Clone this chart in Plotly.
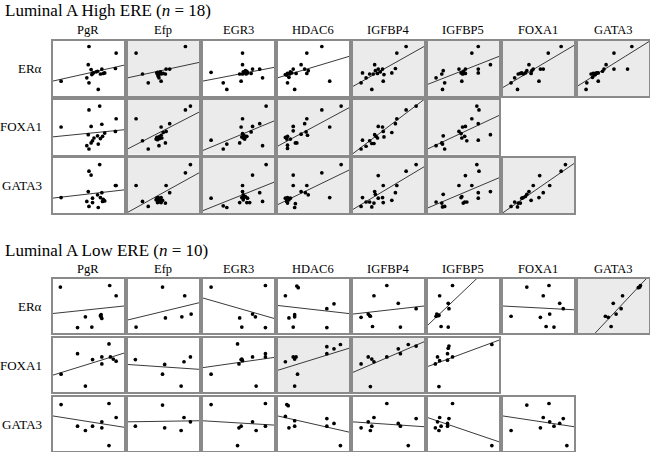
import plotly.graph_objects as go

# ---------------- data (frame-normalised units 0..1) -------------
cols = ["PgR", "Efp", "EGR3", "HDAC6", "IGFBP4", "IGFBP5", "FOXA1", "GATA3"]
rows = ["ERα", "FOXA1", "GATA3"]

# ---- Luminal A High ERE (n = 18) ----
hi_era = {
    "PgR": ([.12,.51,.89,.50,.54,.56,.57,.63,.69,.67,.71,.73,.88,.48,.51,.64,.55,.61],
            [.27,.90,.78,.57,.48,.41,.42,.45,.49,.40,.41,.42,.50,.33,.24,.12,.39,.44]),
    "Efp": ([.12,.81,.21,.29,.41,.42,.43,.45,.47,.44,.47,.53,.54,.59,.42,.46,.43,.50],
            [.78,.90,.40,.24,.42,.40,.38,.41,.40,.33,.27,.40,.49,.49,.43,.44,.36,.41]),
    "EGR3": ([.12,.56,.56,.29,.34,.54,.52,.56,.58,.61,.63,.60,.70,.68,.80,.84,.57,.62],
             [.43,.78,.57,.24,.12,.27,.40,.40,.42,.40,.42,.46,.49,.41,.49,.33,.44,.45]),
    "HDAC6": ([.11,.14,.13,.16,.14,.24,.18,.22,.26,.33,.41,.38,.41,.43,.62,.73,.17,.20],
              [.39,.41,.38,.34,.24,.12,.44,.49,.41,.57,.78,.49,.41,.46,.90,.27,.40,.42]),
    "IGFBP4": ([.12,.14,.19,.24,.27,.29,.31,.32,.35,.36,.42,.44,.43,.55,.60,.62,.75,.39],
               [.24,.42,.33,.40,.12,.40,.57,.46,.41,.49,.49,.39,.27,.42,.50,.78,.90,.44]),
    "IGFBP5": ([.12,.20,.22,.24,.21,.44,.47,.49,.51,.53,.53,.48,.62,.71,.71,.71,.88,.50],
               [.33,.40,.46,.24,.12,.49,.42,.40,.41,.41,.49,.27,.78,.90,.49,.42,.57,.45]),
    "FOXA1": ([.12,.17,.21,.22,.25,.27,.29,.32,.34,.37,.40,.41,.43,.51,.53,.57,.64,.82],
              [.24,.33,.12,.40,.41,.42,.40,.42,.46,.57,.41,.46,.49,.27,.49,.49,.78,.90]),
    "GATA3": ([.12,.13,.19,.21,.22,.25,.27,.29,.23,.29,.35,.37,.40,.51,.51,.70,.76,.25],
              [.12,.24,.40,.34,.41,.41,.42,.42,.38,.27,.45,.49,.57,.78,.49,.49,.90,.39]),
}
hi_fox = {
    "PgR": ([.12,.51,.66,.89,.54,.69,.88,.50,.73,.70,.67,.63,.56,.54,.64,.48,.51,.58],
            [.50,.81,.88,.65,.51,.55,.42,.36,.39,.33,.29,.34,.25,.21,.19,.16,.10,.30]),
    "Efp": ([.12,.81,.88,.21,.29,.47,.59,.54,.41,.42,.45,.47,.44,.53,.44,.48,.50,.40],
            [.65,.81,.88,.25,.10,.50,.56,.42,.31,.27,.29,.35,.16,.21,.32,.30,.40,.28]),
    "EGR3": ([.12,.29,.34,.56,.89,.80,.70,.54,.56,.58,.60,.57,.59,.62,.52,.68,.84,.55],
             [.26,.10,.19,.65,.88,.56,.51,.50,.38,.35,.32,.30,.28,.33,.21,.41,.16,.32]),
    "HDAC6": ([.11,.13,.14,.14,.14,.18,.25,.27,.22,.22,.33,.38,.40,.42,.41,.62,.73,.89],
              [.31,.28,.33,.17,.11,.28,.21,.21,.51,.43,.37,.56,.41,.35,.65,.81,.50,.88]),
    "IGFBP4": ([.12,.14,.19,.24,.27,.30,.31,.33,.35,.36,.42,.43,.44,.55,.60,.62,.75,.89],
               [.10,.26,.15,.25,.20,.20,.36,.33,.30,.51,.50,.42,.32,.40,.56,.65,.81,.88]),
    "IGFBP5": ([.12,.20,.21,.24,.22,.44,.47,.49,.53,.48,.52,.55,.62,.69,.72,.71,.71,.88],
               [.16,.21,.19,.10,.34,.42,.38,.50,.51,.30,.33,.25,.65,.88,.81,.56,.26,.36]),
}
hi_gat = {
    "PgR": ([.12,.51,.54,.66,.88,.89,.50,.69,.63,.67,.56,.48,.56,.51,.64,.70,.73,.71],
            [.28,.76,.69,.88,.50,.50,.39,.37,.33,.28,.27,.21,.19,.12,.10,.21,.22,.25]),
    "Efp": ([.12,.81,.88,.21,.29,.54,.59,.41,.43,.47,.42,.44,.47,.53,.43,.45,.49,.40],
            [.50,.73,.88,.21,.12,.50,.37,.27,.28,.28,.19,.20,.19,.18,.24,.24,.23,.24]),
    "EGR3": ([.12,.29,.34,.56,.70,.89,.56,.57,.55,.58,.60,.52,.62,.66,.80,.84,.63,.57],
             [.27,.13,.10,.50,.69,.88,.39,.33,.28,.28,.30,.19,.19,.19,.37,.21,.27,.24]),
    "HDAC6": ([.11,.13,.14,.14,.13,.18,.25,.24,.22,.22,.33,.41,.39,.43,.62,.73,.89,.16],
              [.27,.21,.28,.18,.22,.27,.17,.10,.69,.50,.39,.50,.37,.33,.73,.28,.88,.24]),
    "IGFBP4": ([.12,.14,.19,.24,.27,.30,.31,.32,.36,.36,.42,.43,.43,.55,.60,.62,.75,.89],
               [.12,.28,.20,.20,.11,.18,.39,.34,.27,.68,.28,.19,.50,.23,.37,.50,.76,.88]),
    "IGFBP5": ([.12,.20,.21,.24,.22,.44,.47,.48,.53,.52,.55,.62,.69,.72,.71,.71,.88,.50],
               [.20,.18,.11,.12,.34,.50,.28,.30,.68,.20,.20,.50,.88,.76,.37,.27,.39,.18]),
    "FOXA1": ([.12,.17,.21,.22,.25,.27,.29,.32,.34,.37,.40,.43,.51,.52,.57,.66,.82,.88],
              [.12,.20,.11,.18,.18,.27,.28,.30,.34,.39,.23,.50,.28,.68,.37,.50,.76,.88]),
}
# regression fits: (intercept, slope) in frame units
hi_fit = {
    "ERα": {"PgR": (.27, .29), "Efp": (.33, .28), "EGR3": (.27, .25), "HDAC6": (.33, .39),
            "IGFBP4": (.17, .73), "IGFBP5": (.21, .51), "FOXA1": (.15, .77), "GATA3": (.18, .81)},
    "FOXA1": {"PgR": (.32, .13), "Efp": (.10, .67), "EGR3": (.07, .54), "HDAC6": (.15, .70),
              "IGFBP4": (.01, .99), "IGFBP5": (.10, .61)},
    "GATA3": {"PgR": (.27, .15), "Efp": (.01, .72), "EGR3": (.04, .52), "HDAC6": (.15, .63),
              "IGFBP4": (.06, .78), "IGFBP5": (.09, .55), "FOXA1": (.00, .90)},
}
hi_sig = {"ERα": ["Efp", "IGFBP4", "IGFBP5", "FOXA1", "GATA3"],
          "FOXA1": ["Efp", "EGR3", "HDAC6", "IGFBP4", "IGFBP5"],
          "GATA3": ["Efp", "EGR3", "HDAC6", "IGFBP4", "IGFBP5", "FOXA1"]}

# ---- Luminal A Low ERE (n = 10) ----
lo_era = {
    "PgR": ([.11,.80,.89,.46,.68,.68,.69,.35,.55,.67], [.85,.88,.69,.30,.34,.30,.27,.10,.11,.32]),
    "Efp": ([.49,.80,.53,.76,.89,.12], [.85,.69,.28,.30,.35,.11]),
    "EGR3": ([.12,.88,.52,.70,.74,.55,.88], [.85,.88,.28,.35,.30,.11,.10]),
    "HDAC6": ([.27,.29,.11,.79,.69,.16,.24,.24,.22,.69], [.87,.84,.69,.54,.45,.28,.34,.30,.11,.10]),
    "IGFBP4": ([.48,.30,.12,.22,.24,.25,.64,.89,.28,.67], [.88,.69,.29,.35,.32,.31,.55,.45,.12,.11]),
    "IGFBP5": ([.35,.17,.29,.30,.13,.15,.16,.12,.19,.29], [.88,.69,.55,.45,.35,.32,.33,.31,.12,.11]),
    "FOXA1": ([.34,.65,.57,.80,.85,.12,.53,.66,.61,.72], [.85,.88,.69,.55,.45,.31,.29,.35,.12,.11]),
    "GATA3": ([.87,.88,.85,.63,.50,.61,.54,.39,.43,.47], [.85,.88,.84,.69,.55,.45,.35,.31,.29,.12]),
}
lo_fox = {
    "PgR": ([.79,.35,.56,.69,.81,.85,.89,.69,.12,.46], [.89,.71,.60,.65,.65,.61,.57,.52,.33,.11]),
    "Efp": ([.11,.52,.49,.79,.88,.75], [.60,.51,.33,.56,.65,.11]),
    "EGR3": ([.49,.12,.51,.54,.56,.70,.88,.88,.75,.55], [.89,.33,.52,.60,.58,.65,.71,.65,.11,.61]),
    "HDAC6": ([.11,.22,.24,.26,.28,.24,.69,.69,.79,.88], [.56,.65,.61,.65,.33,.11,.84,.71,.80,.88]),
    "IGFBP4": ([.12,.22,.27,.30,.48,.64,.67,.78,.89,.25], [.52,.65,.61,.56,.65,.80,.71,.88,.85,.10]),
    "IGFBP5": ([.11,.14,.17,.28,.29,.30,.28,.35,.90,.16], [.52,.65,.58,.71,.81,.85,.59,.65,.88,.10]),
}
lo_gat = {
    "PgR": ([.12,.79,.89,.35,.46,.56,.69,.69,.79], [.86,.88,.62,.46,.38,.46,.54,.43,.10]),
    "Efp": ([.11,.49,.52,.75,.79,.88], [.46,.85,.43,.38,.62,.54]),
    "EGR3": ([.12,.49,.51,.54,.70,.75,.88,.88], [.86,.10,.43,.46,.54,.38,.88,.46]),
    "HDAC6": ([.13,.15,.11,.24,.24,.16,.69,.69,.79,.88], [.86,.84,.64,.56,.46,.43,.60,.46,.51,.10]),
    "IGFBP4": ([.12,.22,.30,.25,.27,.48,.64,.67,.89,.78], [.43,.54,.62,.38,.46,.88,.51,.46,.60,.10]),
    "IGFBP5": ([.11,.14,.16,.17,.19,.28,.28,.30,.35,.90], [.43,.54,.38,.62,.46,.51,.46,.60,.88,.10]),
    "FOXA1": ([.12,.34,.53,.66,.57,.72,.80,.85,.65,.90], [.38,.85,.43,.54,.62,.46,.51,.60,.88,.10]),
}
lo_fit = {
    "ERα": {"PgR": (.36, .14), "Efp": (.24, .32), "EGR3": (.65, -.38), "HDAC6": (.51, -.15),
            "IGFBP4": (.35, .15), "IGFBP5": (.14, 1.26), "FOXA1": (.50, -.07), "GATA3": (-.35, 1.41)},
    "FOXA1": {"PgR": (.31, .41), "Efp": (.51, -.09), "EGR3": (.45, .19), "HDAC6": (.40, .41),
              "IGFBP4": (.36, .57), "IGFBP5": (.47, .49)},
    "GATA3": {"PgR": (.65, -.21), "Efp": (.54, .02), "EGR3": (.56, -.08), "HDAC6": (.65, -.30),
              "IGFBP4": (.54, -.09), "IGFBP5": (.62, -.45), "FOXA1": (.65, -.20)},
}
lo_sig = {"ERα": ["GATA3"], "FOXA1": ["HDAC6", "IGFBP4"], "GATA3": []}

groups = [
    ("Luminal A High ERE (<i>n</i> = 18)", {"ERα": hi_era, "FOXA1": hi_fox, "GATA3": hi_gat}, hi_fit, hi_sig),
    ("Luminal A Low ERE (<i>n</i> = 10)", {"ERα": lo_era, "FOXA1": lo_fox, "GATA3": lo_gat}, lo_fit, lo_sig),
]

# ---------------- layout geometry (pixels) ----------------
W, H = 650, 452
FONT = "Liberation Serif, Times New Roman, serif"
col_left0, col_pitch, panel_w = 52.5, 75.0, 71.5
group_geom = [  # title_y, header_y, first row top, row pitch, panel height
    (11, 30, 41, 58.5, 55),
    (250, 268.5, 279, 59, 54),
]

fig = go.Figure()
layout = {}
shapes = []
annotations = []
k = 0
for gi, (title, rowdata, fits, sig) in enumerate(groups):
    ty, hy, r0, rp, ph = group_geom[gi]
    annotations.append(dict(text=title, x=3 / W, y=1 - ty / H, xref="paper", yref="paper",
                            xanchor="left", yanchor="middle", showarrow=False,
                            font=dict(family=FONT, size=17, color="black")))
    for j, c in enumerate(cols):
        cx = col_left0 + col_pitch * j + panel_w / 2
        annotations.append(dict(text=c, x=cx / W, y=1 - hy / H, xref="paper", yref="paper",
                                xanchor="center", yanchor="middle", showarrow=False,
                                font=dict(family=FONT, size=12.5, color="black")))
    for i, r in enumerate(rows):
        y0 = r0 + rp * i
        annotations.append(dict(text=r, x=44 / W, y=1 - (y0 + ph / 2) / H, xref="paper", yref="paper",
                                xanchor="right", yanchor="middle", showarrow=False,
                                font=dict(family=FONT, size=13, color="black")))
        for j, c in enumerate(cols):
            if c not in rowdata[r]:
                continue
            k += 1
            s = "" if k == 1 else str(k)
            x0 = col_left0 + col_pitch * j
            xs, ys = rowdata[r][c]
            a, b = fits[r][c]
            fig.add_trace(go.Scatter(x=[0, 1], y=[a, a + b], mode="lines",
                                     line=dict(color="#3a3a3a", width=1),
                                     xaxis="x" + s, yaxis="y" + s, showlegend=False, hoverinfo="skip"))
            fig.add_trace(go.Scatter(x=xs, y=ys, mode="markers",
                                     marker=dict(size=3.7, color="black"),
                                     xaxis="x" + s, yaxis="y" + s, showlegend=False, hoverinfo="skip"))
            ax = dict(range=[0, 1], showticklabels=False, ticks="", showgrid=False, zeroline=False,
                      showline=True, mirror=True, linecolor="#8a8a8a", linewidth=1.5, fixedrange=True)
            layout["xaxis" + s] = dict(ax, domain=[x0 / W, (x0 + panel_w) / W], anchor="y" + s)
            layout["yaxis" + s] = dict(ax, domain=[1 - (y0 + ph) / H, 1 - y0 / H], anchor="x" + s)
            if c in sig[r]:
                shapes.append(dict(type="rect", xref="x" + s + " domain", yref="y" + s + " domain",
                                   x0=0, x1=1, y0=0, y1=1, fillcolor="#ebebeb",
                                   line=dict(width=0), layer="below"))

fig.update_layout(width=W, height=H, margin=dict(l=0, r=0, t=0, b=0),
                  paper_bgcolor="white", plot_bgcolor="rgba(0,0,0,0)",
                  shapes=shapes, annotations=annotations, **layout)
fig.write_html("out.html", config={"displayModeBar": False},
               post_script="document.body.style.margin='0';document.body.style.overflow='hidden';")
